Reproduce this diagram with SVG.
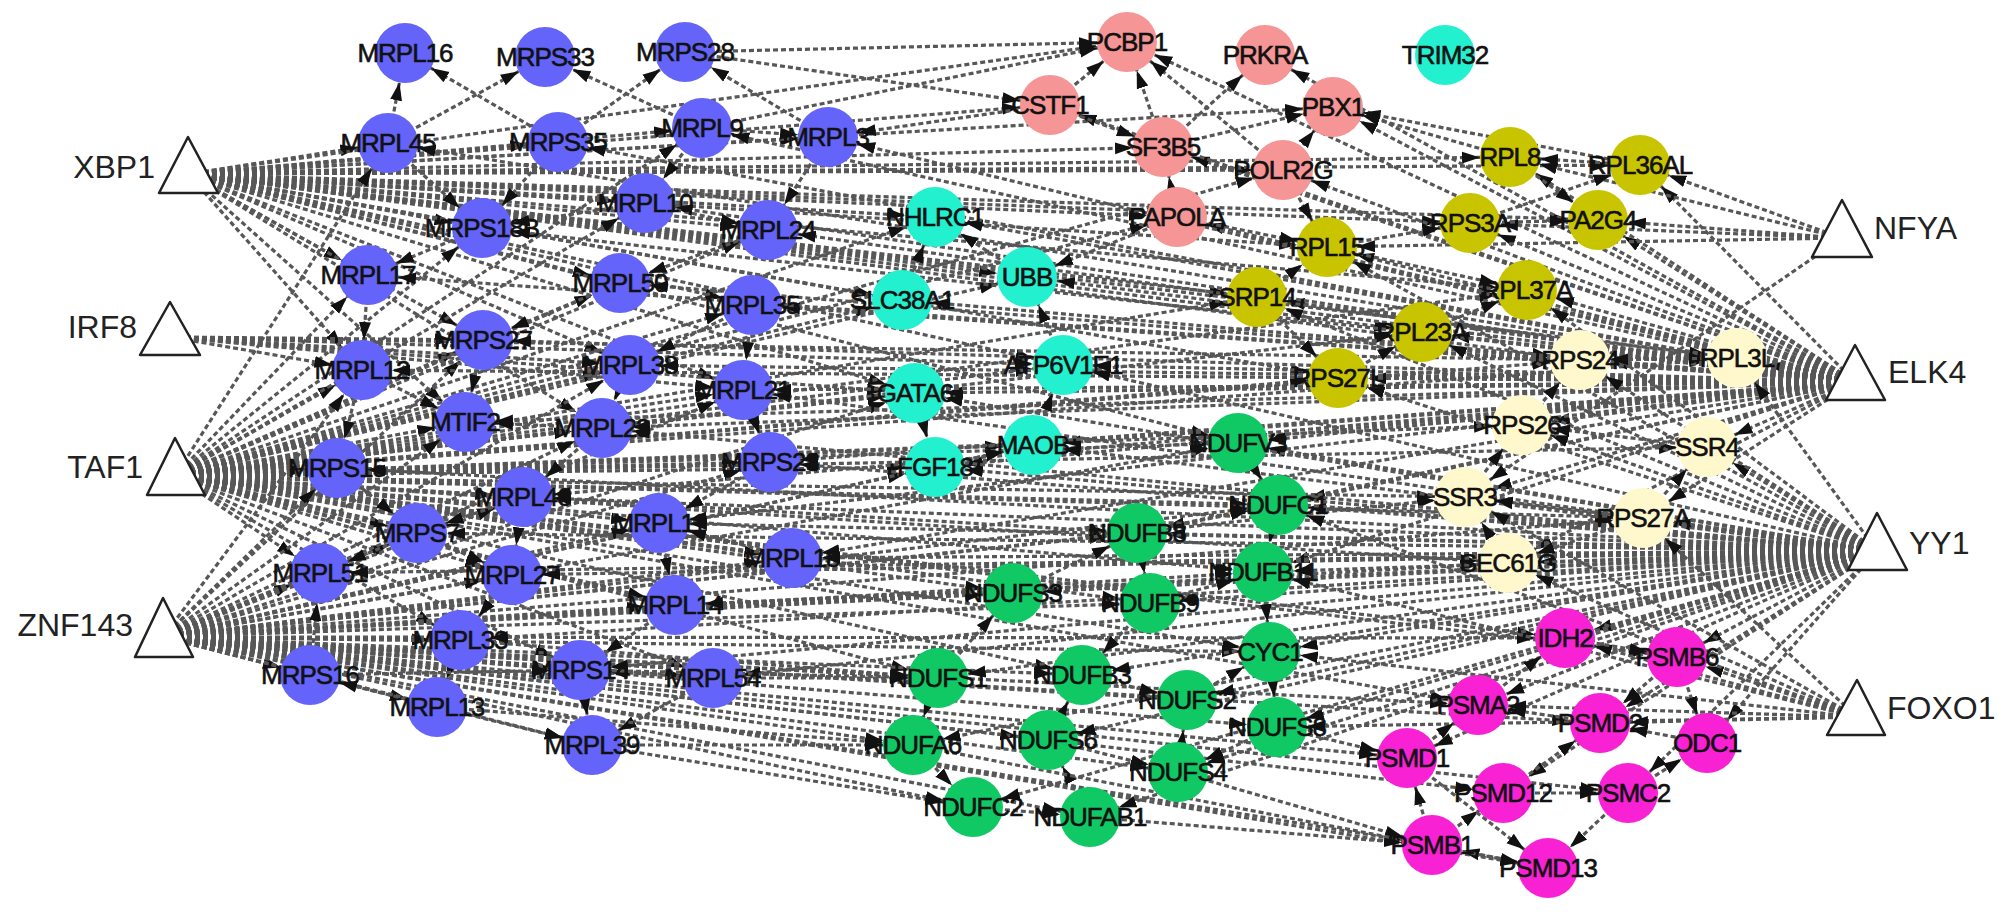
<svg xmlns="http://www.w3.org/2000/svg" width="2008" height="914" viewBox="0 0 2008 914">
<style>
#connectors path{fill:none;stroke:#575757;stroke-width:3.2;stroke-dasharray:5 3;marker-end:url(#ah)}
.n text{font-family:"Liberation Sans",Arial,sans-serif;font-size:26px;letter-spacing:-1px;fill:#111;stroke:#111;stroke-width:0.6;text-anchor:middle}
.tf polygon{fill:#fff;stroke:#222;stroke-width:2.5;stroke-linejoin:round}
.tf text{font-family:"Liberation Sans",Arial,sans-serif;font-size:32px;fill:#222}
.B{fill:#6464fa}.C{fill:#22f0cf}.P{fill:#f59595}.O{fill:#c8c400}.Y{fill:#fff8cc}.G{fill:#10c864}.M{fill:#f822d4}
</style>
<defs>
<marker id="ah" viewBox="0 0 48 14" refX="48" refY="7" markerWidth="48" markerHeight="14" orient="auto" markerUnits="userSpaceOnUse"><path d="M0 1L18 7L0 13z" fill="#111"/></marker>
</defs>
<rect width="2008" height="914" fill="#fff"/>
<g id="connectors">
<path d="M188 174L388 143"/><path d="M188 174L558 142"/><path d="M188 174L702 128"/><path d="M188 174L828 137"/><path d="M188 174L482 228"/><path d="M188 174L645 203"/><path d="M188 174L768 230"/><path d="M188 174L368 275"/><path d="M188 174L620 283"/><path d="M188 174L752 305"/><path d="M188 174L483 340"/><path d="M188 174L630 365"/><path d="M188 174L743 390"/><path d="M188 174L465 422"/><path d="M188 174L935 217"/><path d="M188 174L902 300"/><path d="M188 174L1027 277"/><path d="M188 174L1063 365"/><path d="M188 174L915 393"/><path d="M188 174L1050 105"/><path d="M188 174L1163 147"/><path d="M188 174L1127 42"/><path d="M188 174L1333 107"/><path d="M188 174L1283 170"/><path d="M188 174L1177 217"/><path d="M188 174L1510 157"/><path d="M188 174L1640 165"/><path d="M188 174L1470 223"/><path d="M188 174L1598 220"/><path d="M188 174L1327 247"/><path d="M188 174L1527 290"/><path d="M188 174L1257 297"/><path d="M188 174L1422 332"/><path d="M188 174L1338 378"/><path d="M188 174L1580 360"/><path d="M188 174L1737 358"/><path d="M188 174L1238 443"/><path d="M188 174L362 370"/><path d="M188 174L602 428"/>
<path d="M175 476L368 275"/><path d="M175 476L482 228"/><path d="M175 476L483 340"/><path d="M175 476L362 370"/><path d="M175 476L465 422"/><path d="M175 476L337 468"/><path d="M175 476L523 497"/><path d="M175 476L417 533"/><path d="M175 476L320 573"/><path d="M175 476L512 575"/><path d="M175 476L659 523"/><path d="M175 476L792 558"/><path d="M175 476L602 428"/><path d="M175 476L770 462"/><path d="M175 476L630 365"/><path d="M175 476L743 390"/><path d="M175 476L620 283"/><path d="M175 476L752 305"/><path d="M175 476L768 230"/><path d="M175 476L645 203"/><path d="M175 476L675 605"/><path d="M175 476L460 640"/><path d="M175 476L580 670"/><path d="M175 476L713 678"/><path d="M175 476L915 393"/><path d="M175 476L935 467"/><path d="M175 476L1033 445"/><path d="M175 476L1063 365"/><path d="M175 476L902 300"/><path d="M175 476L935 217"/><path d="M175 476L1027 277"/><path d="M175 476L1238 443"/><path d="M175 476L1278 505"/><path d="M175 476L1137 533"/><path d="M175 476L1263 572"/><path d="M175 476L1013 593"/><path d="M175 476L1150 603"/><path d="M175 476L1270 652"/><path d="M175 476L1082 675"/><path d="M175 476L938 678"/><path d="M175 476L1465 497"/><path d="M175 476L1508 563"/><path d="M175 476L1522 425"/><path d="M175 476L1707 447"/><path d="M175 476L1643 518"/><path d="M175 476L1580 360"/><path d="M175 476L1737 358"/><path d="M175 476L1338 378"/><path d="M175 476L1422 332"/><path d="M175 476L1257 297"/><path d="M175 476L1527 290"/><path d="M175 476L1565 638"/><path d="M175 476L1677 657"/><path d="M175 476L1478 705"/><path d="M175 476L1177 217"/><path d="M175 476L1283 170"/><path d="M175 476L388 143"/><path d="M175 476L702 128"/>
<path d="M163 637L337 468"/><path d="M163 637L320 573"/><path d="M163 637L417 533"/><path d="M163 637L512 575"/><path d="M163 637L523 497"/><path d="M163 637L310 675"/><path d="M163 637L460 640"/><path d="M163 637L437 707"/><path d="M163 637L580 670"/><path d="M163 637L592 745"/><path d="M163 637L713 678"/><path d="M163 637L675 605"/><path d="M163 637L792 558"/><path d="M163 637L659 523"/><path d="M163 637L770 462"/><path d="M163 637L602 428"/><path d="M163 637L465 422"/><path d="M163 637L743 390"/><path d="M163 637L362 370"/><path d="M163 637L483 340"/><path d="M163 637L938 678"/><path d="M163 637L913 745"/><path d="M163 637L973 807"/><path d="M163 637L1048 740"/><path d="M163 637L1082 675"/><path d="M163 637L1090 817"/><path d="M163 637L1178 772"/><path d="M163 637L1187 700"/><path d="M163 637L1277 727"/><path d="M163 637L1270 652"/><path d="M163 637L1150 603"/><path d="M163 637L1013 593"/><path d="M163 637L1137 533"/><path d="M163 637L1263 572"/><path d="M163 637L1278 505"/><path d="M163 637L1238 443"/><path d="M163 637L935 467"/><path d="M163 637L1033 445"/><path d="M163 637L915 393"/><path d="M163 637L1407 758"/><path d="M163 637L1432 845"/><path d="M163 637L1503 793"/><path d="M163 637L1478 705"/><path d="M163 637L1548 868"/><path d="M163 637L1600 723"/><path d="M163 637L1628 793"/><path d="M163 637L1565 638"/><path d="M163 637L1508 563"/><path d="M163 637L1465 497"/><path d="M163 637L1643 518"/><path d="M163 637L630 365"/>
<path d="M170 337L483 340"/><path d="M170 337L630 365"/><path d="M170 337L743 390"/><path d="M170 337L915 393"/><path d="M170 337L1063 365"/><path d="M170 337L1580 360"/><path d="M170 337L362 370"/>
<path d="M1855 382L1737 358"/><path d="M1855 382L1580 360"/><path d="M1855 382L1707 447"/><path d="M1855 382L1522 425"/><path d="M1855 382L1465 497"/><path d="M1855 382L1643 518"/><path d="M1855 382L1508 563"/><path d="M1855 382L1527 290"/><path d="M1855 382L1422 332"/><path d="M1855 382L1338 378"/><path d="M1855 382L1327 247"/><path d="M1855 382L1257 297"/><path d="M1855 382L1470 223"/><path d="M1855 382L1598 220"/><path d="M1855 382L1640 165"/><path d="M1855 382L1510 157"/><path d="M1855 382L1283 170"/><path d="M1855 382L1333 107"/><path d="M1855 382L1163 147"/><path d="M1855 382L1177 217"/><path d="M1855 382L1127 42"/><path d="M1855 382L1050 105"/><path d="M1855 382L1265 55"/><path d="M1855 382L1027 277"/><path d="M1855 382L1063 365"/><path d="M1855 382L915 393"/><path d="M1855 382L1033 445"/><path d="M1855 382L935 467"/><path d="M1855 382L902 300"/><path d="M1855 382L935 217"/><path d="M1855 382L1238 443"/><path d="M1855 382L1278 505"/><path d="M1855 382L1137 533"/><path d="M1855 382L1263 572"/><path d="M1855 382L828 137"/><path d="M1855 382L702 128"/><path d="M1855 382L768 230"/><path d="M1855 382L752 305"/><path d="M1855 382L743 390"/><path d="M1855 382L770 462"/><path d="M1855 382L630 365"/><path d="M1855 382L645 203"/><path d="M1855 382L620 283"/><path d="M1855 382L482 228"/><path d="M1855 382L602 428"/><path d="M1855 382L483 340"/><path d="M1855 382L465 422"/><path d="M1855 382L523 497"/><path d="M1855 382L659 523"/><path d="M1855 382L792 558"/><path d="M1855 382L558 142"/><path d="M1855 382L388 143"/><path d="M1855 382L362 370"/><path d="M1855 382L368 275"/>
<path d="M1877 551L1643 518"/><path d="M1877 551L1707 447"/><path d="M1877 551L1508 563"/><path d="M1877 551L1465 497"/><path d="M1877 551L1522 425"/><path d="M1877 551L1580 360"/><path d="M1877 551L1737 358"/><path d="M1877 551L1527 290"/><path d="M1877 551L1422 332"/><path d="M1877 551L1338 378"/><path d="M1877 551L1257 297"/><path d="M1877 551L1327 247"/><path d="M1877 551L1565 638"/><path d="M1877 551L1677 657"/><path d="M1877 551L1478 705"/><path d="M1877 551L1600 723"/><path d="M1877 551L1707 743"/><path d="M1877 551L1407 758"/><path d="M1877 551L1503 793"/><path d="M1877 551L1628 793"/><path d="M1877 551L1270 652"/><path d="M1877 551L1277 727"/><path d="M1877 551L1187 700"/><path d="M1877 551L1178 772"/><path d="M1877 551L1263 572"/><path d="M1877 551L1278 505"/><path d="M1877 551L1238 443"/><path d="M1877 551L1137 533"/><path d="M1877 551L1150 603"/><path d="M1877 551L1082 675"/><path d="M1877 551L1013 593"/><path d="M1877 551L1048 740"/><path d="M1877 551L938 678"/><path d="M1877 551L913 745"/><path d="M1877 551L973 807"/><path d="M1877 551L1090 817"/><path d="M1877 551L1033 445"/><path d="M1877 551L935 467"/><path d="M1877 551L915 393"/><path d="M1877 551L1063 365"/><path d="M1877 551L792 558"/><path d="M1877 551L770 462"/><path d="M1877 551L659 523"/><path d="M1877 551L675 605"/><path d="M1877 551L713 678"/><path d="M1877 551L580 670"/><path d="M1877 551L512 575"/><path d="M1877 551L523 497"/><path d="M1877 551L417 533"/><path d="M1877 551L460 640"/><path d="M1877 551L602 428"/><path d="M1877 551L743 390"/><path d="M1877 551L337 468"/><path d="M1877 551L320 573"/>
<path d="M1857 717L1677 657"/><path d="M1857 717L1565 638"/><path d="M1857 717L1478 705"/><path d="M1857 717L1508 563"/><path d="M1857 717L1465 497"/><path d="M1857 717L1270 652"/><path d="M1857 717L1277 727"/><path d="M1857 717L1643 518"/><path d="M1857 717L1278 505"/><path d="M1857 717L1263 572"/><path d="M1857 717L1600 723"/>
<path d="M1842 238L1640 165"/><path d="M1842 238L1598 220"/><path d="M1842 238L1470 223"/><path d="M1842 238L1510 157"/><path d="M1842 238L1465 497"/><path d="M1842 238L1327 247"/>
<path d="M388 143L405 53"/><path d="M558 142L405 53"/><path d="M388 143L545 57"/><path d="M702 128L545 57"/><path d="M558 142L685 52"/><path d="M828 137L685 52"/><path d="M702 128L645 203"/><path d="M558 142L482 228"/><path d="M482 228L368 275"/><path d="M388 143L482 228"/><path d="M368 275L362 370"/><path d="M645 203L768 230"/><path d="M768 230L620 283"/><path d="M702 128L828 137"/><path d="M828 137L768 230"/><path d="M483 340L465 422"/><path d="M362 370L337 468"/><path d="M630 365L602 428"/><path d="M743 390L770 462"/><path d="M602 428L523 497"/><path d="M337 468L417 533"/><path d="M523 497L417 533"/><path d="M417 533L320 573"/><path d="M659 523L675 605"/><path d="M792 558L659 523"/><path d="M512 575L460 640"/><path d="M460 640L437 707"/><path d="M310 675L320 573"/><path d="M437 707L310 675"/><path d="M580 670L592 745"/><path d="M713 678L592 745"/><path d="M675 605L580 670"/><path d="M620 283L483 340"/><path d="M752 305L630 365"/><path d="M645 203L482 228"/><path d="M602 428L465 422"/><path d="M770 462L659 523"/><path d="M713 678L580 670"/><path d="M752 305L743 390"/><path d="M362 370L465 422"/><path d="M523 497L512 575"/><path d="M417 533L512 575"/>
<path d="M1050 105L1127 42"/><path d="M1163 147L1127 42"/><path d="M1283 170L1127 42"/><path d="M1163 147L1265 55"/><path d="M1050 105L1163 147"/><path d="M1163 147L1333 107"/><path d="M1283 170L1333 107"/><path d="M1510 157L1333 107"/><path d="M1177 217L1163 147"/><path d="M1177 217L1327 247"/><path d="M1283 170L1327 247"/><path d="M1640 165L1510 157"/><path d="M1470 223L1640 165"/><path d="M1510 157L1598 220"/><path d="M1470 223L1598 220"/><path d="M1327 247L1470 223"/><path d="M1327 247L1527 290"/><path d="M1257 297L1327 247"/><path d="M1422 332L1527 290"/><path d="M1338 378L1422 332"/><path d="M1257 297L1338 378"/><path d="M1027 277L935 217"/><path d="M902 300L935 217"/><path d="M915 393L935 467"/><path d="M1063 365L1027 277"/><path d="M1033 445L1063 365"/><path d="M935 467L1033 445"/><path d="M1050 105L828 137"/><path d="M1177 217L1027 277"/><path d="M685 52L1127 42"/><path d="M702 128L1127 42"/><path d="M685 52L1050 105"/><path d="M1640 165L1333 107"/>
<path d="M1580 360L1737 358"/><path d="M1522 425L1580 360"/><path d="M1707 447L1522 425"/><path d="M1643 518L1707 447"/><path d="M1465 497L1522 425"/><path d="M1508 563L1465 497"/><path d="M1643 518L1465 497"/><path d="M1737 358L1580 360"/><path d="M1643 518L1508 563"/>
<path d="M1238 443L1278 505"/><path d="M1278 505L1263 572"/><path d="M1137 533L1150 603"/><path d="M1013 593L1137 533"/><path d="M1150 603L1082 675"/><path d="M1082 675L1187 700"/><path d="M1187 700L1270 652"/><path d="M1270 652L1277 727"/><path d="M1277 727L1178 772"/><path d="M1178 772L1187 700"/><path d="M1048 740L1178 772"/><path d="M938 678L1013 593"/><path d="M913 745L973 807"/><path d="M973 807L1090 817"/><path d="M1090 817L1048 740"/><path d="M1048 740L1082 675"/><path d="M938 678L913 745"/><path d="M1263 572L1270 652"/><path d="M1137 533L1278 505"/><path d="M1150 603L1263 572"/>
<path d="M1565 638L1677 657"/><path d="M1478 705L1565 638"/><path d="M1677 657L1600 723"/><path d="M1677 657L1707 743"/><path d="M1600 723L1478 705"/><path d="M1407 758L1478 705"/><path d="M1503 793L1600 723"/><path d="M1628 793L1707 743"/><path d="M1503 793L1628 793"/><path d="M1628 793L1548 868"/><path d="M1432 845L1503 793"/><path d="M1432 845L1407 758"/><path d="M1548 868L1432 845"/><path d="M1407 758L1548 868"/><path d="M1277 727L1407 758"/><path d="M1178 772L1432 845"/><path d="M1090 817L1432 845"/><path d="M913 745L1548 868"/><path d="M1707 743L1600 723"/>
<path d="M592 745L913 745"/><path d="M713 678L938 678"/><path d="M592 745L973 807"/><path d="M580 670L938 678"/><path d="M460 640L938 678"/><path d="M437 707L913 745"/><path d="M310 675L580 670"/><path d="M437 707L592 745"/>
</g>
<g id="XBP1" class="tf"><polygon points="188,137 159,193 218,193"/><text x="155" y="178" text-anchor="end">XBP1</text></g>
<g id="IRF8" class="tf"><polygon points="170,302 140,355 200,355"/><text x="137" y="338" text-anchor="end">IRF8</text></g>
<g id="TAF1" class="tf"><polygon points="175,438 147,495 205,495"/><text x="143" y="478" text-anchor="end">TAF1</text></g>
<g id="ZNF143" class="tf"><polygon points="163,598 135,657 193,657"/><text x="133" y="636" text-anchor="end">ZNF143</text></g>
<g id="NFYA" class="tf"><polygon points="1842,200 1812,257 1872,257"/><text x="1874" y="239">NFYA</text></g>
<g id="ELK4" class="tf"><polygon points="1855,345 1826,400 1885,400"/><text x="1888" y="383">ELK4</text></g>
<g id="YY1" class="tf"><polygon points="1877,513 1848,570 1907,570"/><text x="1909" y="554">YY1</text></g>
<g id="FOXO1" class="tf"><polygon points="1857,680 1827,735 1885,735"/><text x="1887" y="719">FOXO1</text></g>
<g id="MRPL16" class="n"><circle class="B" cx="405" cy="53" r="30"/><text x="405" y="62">MRPL16</text></g>
<g id="MRPS33" class="n"><circle class="B" cx="545" cy="57" r="30"/><text x="545" y="66">MRPS33</text></g>
<g id="MRPS28" class="n"><circle class="B" cx="685" cy="52" r="30"/><text x="685" y="61">MRPS28</text></g>
<g id="MRPL45" class="n"><circle class="B" cx="388" cy="143" r="30"/><text x="388" y="152">MRPL45</text></g>
<g id="MRPS35" class="n"><circle class="B" cx="558" cy="142" r="30"/><text x="558" y="151">MRPS35</text></g>
<g id="MRPL9" class="n"><circle class="B" cx="702" cy="128" r="30"/><text x="702" y="137">MRPL9</text></g>
<g id="MRPL3" class="n"><circle class="B" cx="828" cy="137" r="30"/><text x="828" y="146">MRPL3</text></g>
<g id="MRPS18B" class="n"><circle class="B" cx="482" cy="228" r="30"/><text x="482" y="237">MRPS18B</text></g>
<g id="MRPL10" class="n"><circle class="B" cx="645" cy="203" r="30"/><text x="645" y="212">MRPL10</text></g>
<g id="MRPL24" class="n"><circle class="B" cx="768" cy="230" r="30"/><text x="768" y="239">MRPL24</text></g>
<g id="MRPL17" class="n"><circle class="B" cx="368" cy="275" r="30"/><text x="368" y="284">MRPL17</text></g>
<g id="MRPL50" class="n"><circle class="B" cx="620" cy="283" r="30"/><text x="620" y="292">MRPL50</text></g>
<g id="MRPL35" class="n"><circle class="B" cx="752" cy="305" r="30"/><text x="752" y="314">MRPL35</text></g>
<g id="MRPS27" class="n"><circle class="B" cx="483" cy="340" r="30"/><text x="483" y="349">MRPS27</text></g>
<g id="MRPL12" class="n"><circle class="B" cx="362" cy="370" r="30"/><text x="362" y="379">MRPL12</text></g>
<g id="MRPL38" class="n"><circle class="B" cx="630" cy="365" r="30"/><text x="630" y="374">MRPL38</text></g>
<g id="MRPL21" class="n"><circle class="B" cx="743" cy="390" r="30"/><text x="743" y="399">MRPL21</text></g>
<g id="MTIF2" class="n"><circle class="B" cx="465" cy="422" r="30"/><text x="465" y="431">MTIF2</text></g>
<g id="MRPL23" class="n"><circle class="B" cx="602" cy="428" r="30"/><text x="602" y="437">MRPL23</text></g>
<g id="MRPS23" class="n"><circle class="B" cx="770" cy="462" r="30"/><text x="770" y="471">MRPS23</text></g>
<g id="MRPS15" class="n"><circle class="B" cx="337" cy="468" r="30"/><text x="337" y="477">MRPS15</text></g>
<g id="MRPL46" class="n"><circle class="B" cx="523" cy="497" r="30"/><text x="523" y="506">MRPL46</text></g>
<g id="MRPL11" class="n"><circle class="B" cx="659" cy="523" r="30"/><text x="659" y="532">MRPL11</text></g>
<g id="MRPS7" class="n"><circle class="B" cx="417" cy="533" r="30"/><text x="417" y="542">MRPS7</text></g>
<g id="MRPL18" class="n"><circle class="B" cx="792" cy="558" r="30"/><text x="792" y="567">MRPL18</text></g>
<g id="MRPL51" class="n"><circle class="B" cx="320" cy="573" r="30"/><text x="320" y="582">MRPL51</text></g>
<g id="MRPL27" class="n"><circle class="B" cx="512" cy="575" r="30"/><text x="512" y="584">MRPL27</text></g>
<g id="MRPL14" class="n"><circle class="B" cx="675" cy="605" r="30"/><text x="675" y="614">MRPL14</text></g>
<g id="MRPL33" class="n"><circle class="B" cx="460" cy="640" r="30"/><text x="460" y="649">MRPL33</text></g>
<g id="MRPS14" class="n"><circle class="B" cx="580" cy="670" r="30"/><text x="580" y="679">MRPS14</text></g>
<g id="MRPL54" class="n"><circle class="B" cx="713" cy="678" r="30"/><text x="713" y="687">MRPL54</text></g>
<g id="MRPS16" class="n"><circle class="B" cx="310" cy="675" r="30"/><text x="310" y="684">MRPS16</text></g>
<g id="MRPL13" class="n"><circle class="B" cx="437" cy="707" r="30"/><text x="437" y="716">MRPL13</text></g>
<g id="MRPL39" class="n"><circle class="B" cx="592" cy="745" r="30"/><text x="592" y="754">MRPL39</text></g>
<g id="NHLRC1" class="n"><circle class="C" cx="935" cy="217" r="30"/><text x="935" y="226">NHLRC1</text></g>
<g id="SLC38A1" class="n"><circle class="C" cx="902" cy="300" r="30"/><text x="902" y="309">SLC38A1</text></g>
<g id="UBB" class="n"><circle class="C" cx="1027" cy="277" r="30"/><text x="1027" y="286">UBB</text></g>
<g id="ATP6V1E1" class="n"><circle class="C" cx="1063" cy="365" r="30"/><text x="1063" y="374">ATP6V1E1</text></g>
<g id="GATA6" class="n"><circle class="C" cx="915" cy="393" r="30"/><text x="915" y="402">GATA6</text></g>
<g id="MAOB" class="n"><circle class="C" cx="1033" cy="445" r="30"/><text x="1033" y="454">MAOB</text></g>
<g id="FGF18" class="n"><circle class="C" cx="935" cy="467" r="30"/><text x="935" y="476">FGF18</text></g>
<g id="TRIM32" class="n"><circle class="C" cx="1445" cy="55" r="30"/><text x="1445" y="64">TRIM32</text></g>
<g id="PCBP1" class="n"><circle class="P" cx="1127" cy="42" r="30"/><text x="1127" y="51">PCBP1</text></g>
<g id="PRKRA" class="n"><circle class="P" cx="1265" cy="55" r="30"/><text x="1265" y="64">PRKRA</text></g>
<g id="CSTF1" class="n"><circle class="P" cx="1050" cy="105" r="30"/><text x="1050" y="114">CSTF1</text></g>
<g id="PBX1" class="n"><circle class="P" cx="1333" cy="107" r="30"/><text x="1333" y="116">PBX1</text></g>
<g id="SF3B5" class="n"><circle class="P" cx="1163" cy="147" r="30"/><text x="1163" y="156">SF3B5</text></g>
<g id="POLR2G" class="n"><circle class="P" cx="1283" cy="170" r="30"/><text x="1283" y="179">POLR2G</text></g>
<g id="PAPOLA" class="n"><circle class="P" cx="1177" cy="217" r="30"/><text x="1177" y="226">PAPOLA</text></g>
<g id="RPL8" class="n"><circle class="O" cx="1510" cy="157" r="30"/><text x="1510" y="166">RPL8</text></g>
<g id="RPL36AL" class="n"><circle class="O" cx="1640" cy="165" r="30"/><text x="1640" y="174">RPL36AL</text></g>
<g id="RPS3A" class="n"><circle class="O" cx="1470" cy="223" r="30"/><text x="1470" y="232">RPS3A</text></g>
<g id="PA2G4" class="n"><circle class="O" cx="1598" cy="220" r="30"/><text x="1598" y="229">PA2G4</text></g>
<g id="RPL15" class="n"><circle class="O" cx="1327" cy="247" r="30"/><text x="1327" y="256">RPL15</text></g>
<g id="RPL37A" class="n"><circle class="O" cx="1527" cy="290" r="30"/><text x="1527" y="299">RPL37A</text></g>
<g id="SRP14" class="n"><circle class="O" cx="1257" cy="297" r="30"/><text x="1257" y="306">SRP14</text></g>
<g id="RPL23A" class="n"><circle class="O" cx="1422" cy="332" r="30"/><text x="1422" y="341">RPL23A</text></g>
<g id="RPS27L" class="n"><circle class="O" cx="1338" cy="378" r="30"/><text x="1338" y="387">RPS27L</text></g>
<g id="RPS24" class="n"><circle class="Y" cx="1580" cy="360" r="30"/><text x="1580" y="369">RPS24</text></g>
<g id="RPL3L" class="n"><circle class="Y" cx="1737" cy="358" r="30"/><text x="1737" y="367">RPL3L</text></g>
<g id="RPS26" class="n"><circle class="Y" cx="1522" cy="425" r="30"/><text x="1522" y="434">RPS26</text></g>
<g id="SSR4" class="n"><circle class="Y" cx="1707" cy="447" r="30"/><text x="1707" y="456">SSR4</text></g>
<g id="SSR3" class="n"><circle class="Y" cx="1465" cy="497" r="30"/><text x="1465" y="506">SSR3</text></g>
<g id="RPS27A" class="n"><circle class="Y" cx="1643" cy="518" r="30"/><text x="1643" y="527">RPS27A</text></g>
<g id="SEC61G" class="n"><circle class="Y" cx="1508" cy="563" r="30"/><text x="1508" y="572">SEC61G</text></g>
<g id="NDUFV3" class="n"><circle class="G" cx="1238" cy="443" r="30"/><text x="1238" y="452">NDUFV3</text></g>
<g id="NDUFC1" class="n"><circle class="G" cx="1278" cy="505" r="30"/><text x="1278" y="514">NDUFC1</text></g>
<g id="NDUFB8" class="n"><circle class="G" cx="1137" cy="533" r="30"/><text x="1137" y="542">NDUFB8</text></g>
<g id="NDUFB11" class="n"><circle class="G" cx="1263" cy="572" r="30"/><text x="1263" y="581">NDUFB11</text></g>
<g id="NDUFS3" class="n"><circle class="G" cx="1013" cy="593" r="30"/><text x="1013" y="602">NDUFS3</text></g>
<g id="NDUFB9" class="n"><circle class="G" cx="1150" cy="603" r="30"/><text x="1150" y="612">NDUFB9</text></g>
<g id="CYC1" class="n"><circle class="G" cx="1270" cy="652" r="30"/><text x="1270" y="661">CYC1</text></g>
<g id="NDUFS1" class="n"><circle class="G" cx="938" cy="678" r="30"/><text x="938" y="687">NDUFS1</text></g>
<g id="NDUFB3" class="n"><circle class="G" cx="1082" cy="675" r="30"/><text x="1082" y="684">NDUFB3</text></g>
<g id="NDUFS2" class="n"><circle class="G" cx="1187" cy="700" r="30"/><text x="1187" y="709">NDUFS2</text></g>
<g id="NDUFS8" class="n"><circle class="G" cx="1277" cy="727" r="30"/><text x="1277" y="736">NDUFS8</text></g>
<g id="NDUFA6" class="n"><circle class="G" cx="913" cy="745" r="30"/><text x="913" y="754">NDUFA6</text></g>
<g id="NDUFS6" class="n"><circle class="G" cx="1048" cy="740" r="30"/><text x="1048" y="749">NDUFS6</text></g>
<g id="NDUFS4" class="n"><circle class="G" cx="1178" cy="772" r="30"/><text x="1178" y="781">NDUFS4</text></g>
<g id="NDUFC2" class="n"><circle class="G" cx="973" cy="807" r="30"/><text x="973" y="816">NDUFC2</text></g>
<g id="NDUFAB1" class="n"><circle class="G" cx="1090" cy="817" r="30"/><text x="1090" y="826">NDUFAB1</text></g>
<g id="IDH2" class="n"><circle class="M" cx="1565" cy="638" r="30"/><text x="1565" y="647">IDH2</text></g>
<g id="PSMB6" class="n"><circle class="M" cx="1677" cy="657" r="30"/><text x="1677" y="666">PSMB6</text></g>
<g id="PSMA2" class="n"><circle class="M" cx="1478" cy="705" r="30"/><text x="1478" y="714">PSMA2</text></g>
<g id="PSMD2" class="n"><circle class="M" cx="1600" cy="723" r="30"/><text x="1600" y="732">PSMD2</text></g>
<g id="ODC1" class="n"><circle class="M" cx="1707" cy="743" r="30"/><text x="1707" y="752">ODC1</text></g>
<g id="PSMD1" class="n"><circle class="M" cx="1407" cy="758" r="30"/><text x="1407" y="767">PSMD1</text></g>
<g id="PSMD12" class="n"><circle class="M" cx="1503" cy="793" r="30"/><text x="1503" y="802">PSMD12</text></g>
<g id="PSMC2" class="n"><circle class="M" cx="1628" cy="793" r="30"/><text x="1628" y="802">PSMC2</text></g>
<g id="PSMB1" class="n"><circle class="M" cx="1432" cy="845" r="30"/><text x="1432" y="854">PSMB1</text></g>
<g id="PSMD13" class="n"><circle class="M" cx="1548" cy="868" r="30"/><text x="1548" y="877">PSMD13</text></g>
</svg>
